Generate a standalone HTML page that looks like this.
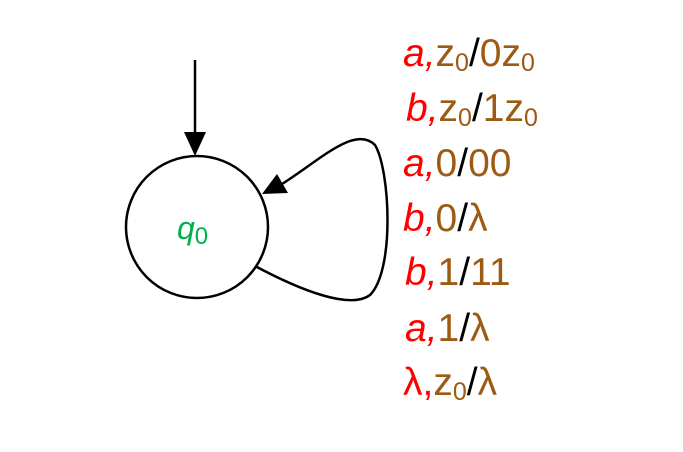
<!DOCTYPE html>
<html><head><style>body{margin:0;background:#fff}</style></head><body>
<svg width="683" height="447" xmlns="http://www.w3.org/2000/svg" font-family="Liberation Sans, sans-serif">
<line x1="195" y1="60" x2="195" y2="135" stroke="#000" stroke-width="2.5"/>
<polygon points="184,132 206,132 195,156" fill="#000"/>
<circle cx="197" cy="227" r="71" fill="none" stroke="#000" stroke-width="2.5"/>
<path d="M255,266 C300,290 350,310 370,295 C395,270 390,170 375,145 C355,125 320,160 282,184" fill="none" stroke="#000" stroke-width="2.5"/>
<polygon points="262,194 277,174 288,193" fill="#000"/>
<text x="177" y="239" font-size="32" font-style="italic" fill="#00b050">q<tspan font-style="normal" font-size="24" dy="5">0</tspan></text>
<g font-size="39">
<text x="403" y="66"><tspan fill="#f00" font-style="italic">a,</tspan><tspan fill="#9c5a12">z<tspan font-size="25" dy="5">0</tspan></tspan><tspan dy="-5" fill="#000">/</tspan><tspan fill="#9c5a12">0z<tspan font-size="25" dy="5">0</tspan></tspan></text>
<text x="406" y="121"><tspan fill="#f00" font-style="italic">b,</tspan><tspan fill="#9c5a12">z<tspan font-size="25" dy="5">0</tspan></tspan><tspan dy="-5" fill="#000">/</tspan><tspan fill="#9c5a12">1z<tspan font-size="25" dy="5">0</tspan></tspan></text>
<text x="403" y="176"><tspan fill="#f00" font-style="italic">a,</tspan><tspan fill="#9c5a12">0</tspan><tspan fill="#000">/</tspan><tspan fill="#9c5a12">00</tspan></text>
<text x="403" y="231"><tspan fill="#f00" font-style="italic">b,</tspan><tspan fill="#9c5a12">0</tspan><tspan fill="#000">/</tspan><tspan fill="#9c5a12">λ</tspan></text>
<text x="405" y="285"><tspan fill="#f00" font-style="italic">b,</tspan><tspan fill="#9c5a12">1</tspan><tspan fill="#000">/</tspan><tspan fill="#9c5a12">11</tspan></text>
<text x="405" y="341"><tspan fill="#f00" font-style="italic">a,</tspan><tspan fill="#9c5a12">1</tspan><tspan fill="#000">/</tspan><tspan fill="#9c5a12">λ</tspan></text>
<text x="403" y="395"><tspan fill="#f00">λ,</tspan><tspan fill="#9c5a12">z<tspan font-size="25" dy="5">0</tspan></tspan><tspan dy="-5" fill="#000">/</tspan><tspan fill="#9c5a12">λ</tspan></text>
</g>
</svg>
</body></html>
